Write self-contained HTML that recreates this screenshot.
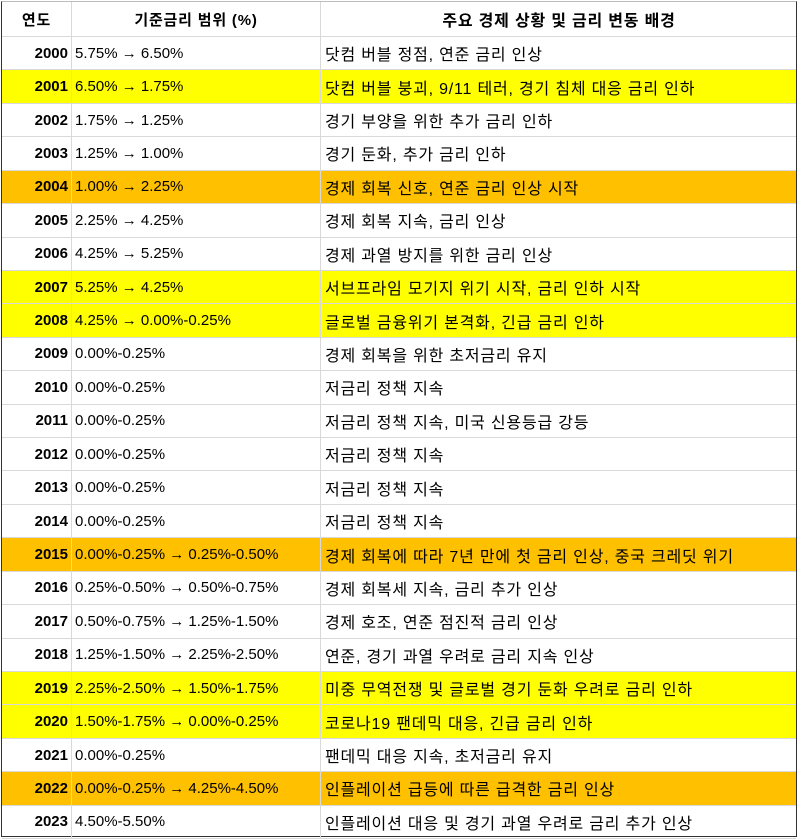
<!DOCTYPE html>
<html><head><meta charset="utf-8"><style>
body{margin:0;background:#fff;width:800px;height:840px;overflow:hidden;font-family:"Liberation Sans","Noto Sans CJK KR",sans-serif;font-size:15px;color:#000}
.wrap{position:absolute;left:1px;top:1px;width:796px;height:836px;border:1.5px solid #333;border-top:1px solid #bbb;box-sizing:border-box}
.row{position:absolute;left:0;width:100%;height:33.42px;border-bottom:1px solid #d9d9d9;box-sizing:border-box}
.row div{position:absolute;top:0;height:100%;display:flex;align-items:center;box-sizing:border-box;white-space:nowrap}
.c1{left:0;width:70px;justify-content:flex-end;padding-right:3px;font-weight:bold;border-right:1px solid #d9d9d9}
.c2{left:70px;width:249px;padding-left:3px;border-right:1px solid #d9d9d9}
.c3{left:319px;width:476px;padding-left:4px;font-size:16px;letter-spacing:0.8px}
.h div{justify-content:center!important;font-weight:bold;padding:0!important;letter-spacing:0.8px}
.y{background:#ffff00}.o{background:#ffc000}
</style></head><body><div class="wrap" id="w"></div>
<script>
const d=[["2000","5.75% → 6.50%","닷컴 버블 정점, 연준 금리 인상",""],
["2001","6.50% → 1.75%","닷컴 버블 붕괴, 9/11 테러, 경기 침체 대응 금리 인하","y"],
["2002","1.75% → 1.25%","경기 부양을 위한 추가 금리 인하",""],
["2003","1.25% → 1.00%","경기 둔화, 추가 금리 인하",""],
["2004","1.00% → 2.25%","경제 회복 신호, 연준 금리 인상 시작","o"],
["2005","2.25% → 4.25%","경제 회복 지속, 금리 인상",""],
["2006","4.25% → 5.25%","경제 과열 방지를 위한 금리 인상",""],
["2007","5.25% → 4.25%","서브프라임 모기지 위기 시작, 금리 인하 시작","y"],
["2008","4.25% → 0.00%-0.25%","글로벌 금융위기 본격화, 긴급 금리 인하","y"],
["2009","0.00%-0.25%","경제 회복을 위한 초저금리 유지",""],
["2010","0.00%-0.25%","저금리 정책 지속",""],
["2011","0.00%-0.25%","저금리 정책 지속, 미국 신용등급 강등",""],
["2012","0.00%-0.25%","저금리 정책 지속",""],
["2013","0.00%-0.25%","저금리 정책 지속",""],
["2014","0.00%-0.25%","저금리 정책 지속",""],
["2015","0.00%-0.25% → 0.25%-0.50%","경제 회복에 따라 7년 만에 첫 금리 인상, 중국 크레딧 위기","o"],
["2016","0.25%-0.50% → 0.50%-0.75%","경제 회복세 지속, 금리 추가 인상",""],
["2017","0.50%-0.75% → 1.25%-1.50%","경제 호조, 연준 점진적 금리 인상",""],
["2018","1.25%-1.50% → 2.25%-2.50%","연준, 경기 과열 우려로 금리 지속 인상",""],
["2019","2.25%-2.50% → 1.50%-1.75%","미중 무역전쟁 및 글로벌 경기 둔화 우려로 금리 인하","y"],
["2020","1.50%-1.75% → 0.00%-0.25%","코로나19 팬데믹 대응, 긴급 금리 인하","y"],
["2021","0.00%-0.25%","팬데믹 대응 지속, 초저금리 유지",""],
["2022","0.00%-0.25% → 4.25%-4.50%","인플레이션 급등에 따른 급격한 금리 인상","o"],
["2023","4.50%-5.50%","인플레이션 대응 및 경기 과열 우려로 금리 추가 인상",""]];
let h='<div class="row h" style="top:0;height:35px"><div class="c1">연도</div><div class="c2">기준금리 범위 (%)</div><div class="c3">주요 경제 상황 및 금리 변동 배경</div></div>';
d.forEach((r,i)=>{h+=`<div class="row ${r[3]}" style="top:${35+i*33.42}px"><div class="c1">${r[0]}</div><div class="c2">${r[1]}</div><div class="c3">${r[2]}</div></div>`});
document.getElementById('w').innerHTML=h;
</script></body></html>
